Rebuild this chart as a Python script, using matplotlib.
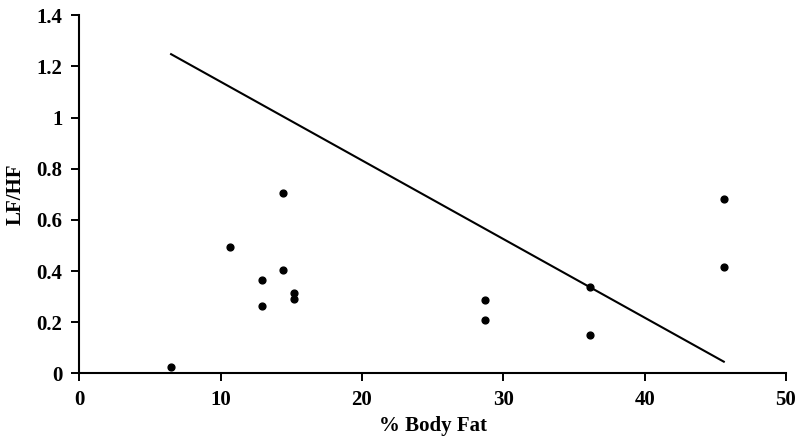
import matplotlib
matplotlib.use("Agg")
import matplotlib.pyplot as plt

body_fat = [6.5, 10.7, 12.9, 12.9, 14.4, 14.4, 15.2, 15.2, 28.7, 28.7, 36.1, 36.1, 45.6, 45.6]
lf_hf = [0.025, 0.494, 0.366, 0.262, 0.705, 0.404, 0.314, 0.291, 0.288, 0.210, 0.336, 0.149, 0.683, 0.416]
line_x = [6.5, 45.6]
line_y = [1.248, 0.046]
x_ticks = [0, 10, 20, 30, 40, 50]
y_ticks = [0, 0.2, 0.4, 0.6, 0.8, 1.0, 1.2, 1.4]
y_tick_labels = ["0", "0.2", "0.4", "0.6", "0.8", "1", "1.2", "1.4"]

plt.rcParams['font.family'] = ['Liberation Serif', 'DejaVu Serif']
plt.rcParams['font.weight'] = 'bold'

fig = plt.figure(figsize=(8, 4.43), dpi=100)
ax = fig.add_axes([0.099, 0.157, 0.8835, 0.8085])

ax.plot(line_x, line_y, color='black', linewidth=1.5)
ax.scatter(body_fat, lf_hf, s=24, color='black', zorder=3)

ax.set_xlim(0, 50)
ax.set_ylim(0, 1.4)
ax.set_xticks(x_ticks)
ax.set_yticks(y_ticks)
ax.set_yticklabels(y_tick_labels)
for lab in ax.get_xticklabels() + ax.get_yticklabels():
    lab.set_fontweight('bold')
ax.tick_params(axis='both', direction='out', length=6, width=1.4, labelsize=15)
ax.tick_params(axis='y', pad=6)
ax.tick_params(axis='x', pad=6)

for s in ['top', 'right']:
    ax.spines[s].set_visible(False)
for s in ['left', 'bottom']:
    ax.spines[s].set_linewidth(1.5)

ax.set_xlabel('% Body Fat', fontsize=15, fontweight='bold', labelpad=4)
ax.set_ylabel('LF/HF', fontsize=15, fontweight='bold', labelpad=8)

fig.savefig('out.png', dpi=100)
